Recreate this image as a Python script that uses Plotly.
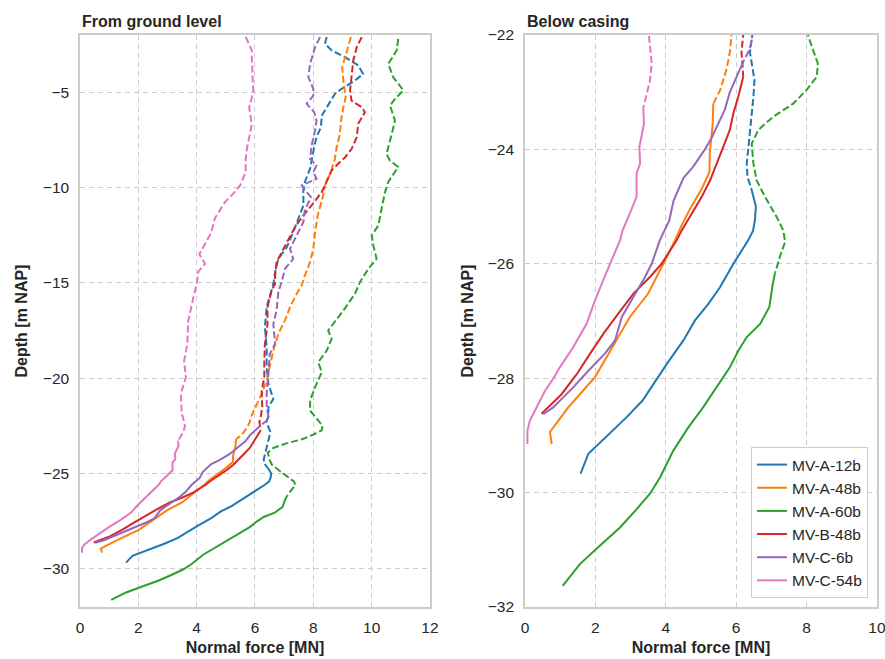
import plotly.graph_objects as go
from plotly.subplots import make_subplots

names = ["MV-A-12b", "MV-A-48b", "MV-A-60b", "MV-B-48b", "MV-C-6b", "MV-C-54b"]
colors = ["#1f77b4", "#ff7f0e", "#2ca02c", "#d62728", "#9467bd", "#e377c2"]

# depth [m NAP] / normal force [MN], top to bottom; casing = end of dashed part
a12_depth = [-2.1, -2.46, -2.81, -3.16, -3.6, -4.04, -4.39, -4.82, -5.09, -5.7, -6.23, -6.84, -7.36, -7.89,
             -8.5, -9.01, -9.71, -10.06, -10.94, -11.64, -12.34, -13.13, -13.74, -14.44, -15.05, -16.27,
             -17.32, -18.37, -19.42, -20.3, -21.09, -21.52, -22.0, -22.3, -22.79, -23.08, -23.37, -23.66,
             -23.9, -24.25, -24.48, -24.71, -25.0, -25.24, -25.42, -25.59, -26.0, -26.41, -26.7, -26.99,
             -27.34, -27.75, -28.1, -28.39, -28.68, -28.97, -29.32, -29.67]
a12_force = [8.46, 8.4, 8.63, 9.09, 9.54, 9.71, 9.43, 8.97, 8.74, 8.51, 8.29, 8.26, 8.11, 8.03,
             7.94, 7.89, 7.71, 7.66, 7.66, 7.49, 7.31, 7.09, 6.8, 6.69, 6.63, 6.4,
             6.34, 6.4, 6.4, 6.46, 6.63, 6.46, 6.46, 6.39, 6.52, 6.49, 6.44, 6.39,
             6.34, 6.30, 6.32, 6.44, 6.56, 6.53, 6.48, 6.34, 5.92, 5.54, 5.21, 4.83,
             4.5, 4.03, 3.65, 3.34, 2.89, 2.41, 1.80, 1.58]

a48_depth = [-2.11, -2.46, -3.16, -3.69, -4.39, -5.26, -5.79, -6.49, -7.19, -7.89, -8.49, -9.19, -9.89,
             -10.59, -11.46, -12.34, -13.21, -13.91, -14.61, -15.14, -15.57, -16.27, -16.97, -17.67,
             -18.55, -19.42, -20.12, -20.82, -21.52, -22.0, -22.3, -22.59, -22.97, -23.2, -23.58, -24.05,
             -24.4, -24.69, -25.04, -25.33, -25.59, -26.0, -26.52, -26.93, -27.34, -27.69, -27.98, -28.28,
             -28.51, -28.74, -28.94, -29.15]
a48_force = [9.29, 9.22, 9.09, 8.99, 9.03, 9.11, 9.03, 8.95, 8.91, 8.8, 8.74, 8.6, 8.4,
             8.31, 8.15, 8.06, 8.0, 7.89, 7.71, 7.6, 7.43, 7.2, 7.03, 6.8,
             6.63, 6.51, 6.4, 6.23, 6.0, 5.87, 5.82, 5.73, 5.54, 5.35, 5.33, 5.25,
             5.24, 5.02, 4.69, 4.45, 4.26, 3.93, 3.5, 2.98, 2.6, 2.27, 1.99, 1.56,
             1.23, 0.95, 0.71, 0.76]

a60_depth = [-2.2, -2.81, -3.51, -4.21, -4.91, -5.35, -5.7, -6.49, -7.19, -7.8, -8.24, -8.59, -8.92,
             -9.71, -10.24, -11.11, -11.99, -12.51, -13.04, -13.74, -14.26, -14.96, -15.57, -16.45,
             -17.5, -17.93, -18.55, -19.16, -19.69, -20.47, -21.17, -21.7, -22.06, -22.5, -22.73,
             -22.96, -23.2, -23.43, -23.66, -23.9, -24.25, -24.54, -24.83, -25.18, -25.42, -25.62,
             -25.82, -26.17, -26.35, -26.76, -27.05, -27.28, -27.52, -27.81, -28.16, -28.51, -28.86,
             -29.27, -29.73, -30.02, -30.32, -30.61, -30.9, -31.25, -31.63]
a60_force = [10.91, 10.86, 10.57, 10.74, 11.09, 10.8, 10.63, 10.8, 10.69, 10.57, 10.51, 10.63, 10.91,
             10.57, 10.46, 10.34, 10.23, 10.0, 10.06, 10.17, 9.89, 9.6, 9.43, 9.03,
             8.51, 8.63, 8.46, 8.17, 8.29, 8.06, 7.89, 7.89, 8.07, 8.32, 8.29,
             8.0, 7.62, 7.05, 6.63, 6.44, 6.49, 6.58, 6.82, 7.15, 7.34, 7.39,
             7.27, 7.1, 7.04, 6.94, 6.68, 6.3, 6.06, 5.82, 5.44, 5.06, 4.64,
             4.21, 3.84, 3.55, 3.13, 2.7, 2.18, 1.56, 1.07]

b48_depth = [-2.11, -2.64, -3.34, -4.04, -4.91, -5.44, -5.79, -6.05, -6.66, -7.36, -7.98, -8.42, -8.66,
             -9.1, -10.24, -10.94, -11.46, -12.08, -13.04, -13.91, -14.61, -15.05, -15.4, -16.27,
             -17.15, -18.2, -19.07, -19.95, -20.65, -21.52, -22.0, -22.3, -22.53, -22.73, -23.08,
             -23.37, -23.66, -23.96, -24.25, -24.54, -24.83, -25.12, -25.42, -25.59, -26.0, -26.23,
             -26.52, -26.87, -27.22, -27.57, -27.93, -28.28, -28.62]
b48_force = [9.66, 9.49, 9.37, 9.31, 9.26, 9.31, 9.66, 9.77, 9.54, 9.49, 9.31, 9.09, 8.91,
             8.63, 8.29, 7.94, 7.66, 7.37, 7.03, 6.74, 6.69, 6.69, 6.57, 6.43,
             6.43, 6.34, 6.32, 6.32, 6.23, 6.25, 6.2, 6.15, 6.18, 6.2, 6.06,
             5.92, 5.82, 5.63, 5.44, 5.26, 5.02, 4.73, 4.45, 4.31, 3.88, 3.55,
             3.08, 2.65, 2.23, 1.85, 1.47, 1.04, 0.47]

c6_depth = [-2.11, -2.64, -3.51, -4.21, -4.82, -5.18, -5.61, -6.05, -6.49, -7.01, -7.8, -8.5, -8.84,
            -9.19, -9.54, -9.89, -10.24, -10.5, -11.2, -11.81, -12.51, -13.21, -13.74, -14.26, -14.96,
            -15.5, -16.45, -17.15, -18.2, -18.72, -19.77, -20.82, -21.52, -22.0, -22.24, -22.47,
            -22.7, -23.0, -23.3, -23.6, -23.8, -24.0, -24.3, -24.5, -24.9, -25.24, -25.59, -26.0,
            -26.23, -26.58, -26.93, -27.34, -27.57, -27.87, -28.16, -28.51, -28.63]
c6_force = [8.23, 8.06, 7.89, 7.83, 8.0, 8.0, 7.77, 8.03, 8.11, 8.06, 7.94, 7.89, 8.11,
            8.0, 8.11, 7.6, 7.77, 7.92, 7.71, 7.66, 7.43, 7.2, 7.31, 7.03, 6.91,
            6.8, 6.74, 6.63, 6.69, 6.51, 6.46, 6.4, 6.4, 6.46, 6.39, 6.2,
            6.04, 5.82, 5.68, 5.44, 5.3, 5.11, 4.78, 4.5, 4.22, 4.1, 3.83, 3.6,
            3.41, 3.08, 2.75, 2.56, 2.27, 1.8, 1.37, 0.8, 0.52]

c54_depth = [-2.1, -2.8, -3.16, -5.0, -5.8, -6.7, -7.9, -8.5, -9.19, -9.89, -10.41, -10.76, -11.6,
             -12.1, -12.4, -13.5, -14.0, -14.4, -15.05, -15.75, -17.0, -18.2, -19.1, -19.95, -20.8,
             -21.9, -22.0, -22.5, -22.8, -23.08, -23.28, -23.55, -23.96, -24.25, -24.42, -24.83,
             -25.12, -25.42, -25.59, -26.0, -26.17, -26.64, -27.05, -27.46, -27.81, -28.01, -28.22,
             -28.45, -28.74, -28.92, -29.15]
c54_force = [5.68, 5.89, 5.89, 5.94, 5.8, 5.89, 5.73, 5.68, 5.68, 5.49, 5.2, 4.97, 4.63,
             4.55, 4.49, 4.09, 4.29, 4.06, 4.0, 3.89, 3.71, 3.68, 3.57, 3.63, 3.46,
             3.49, 3.52, 3.6, 3.55, 3.44, 3.36, 3.38, 3.25, 3.27, 3.17, 3.17,
             2.98, 2.77, 2.70, 2.41, 2.30, 1.99, 1.75, 1.37, 0.99, 0.80, 0.57,
             0.38, 0.14, 0.07, 0.07]

casing_depth = [-24.71, -23.2, -26.17, -22.73, -22.47, -23.28]

depths = [a12_depth, a48_depth, a60_depth, b48_depth, c6_depth, c54_depth]
forces = [a12_force, a48_force, a60_force, b48_force, c6_force, c54_force]

left_xticks = [0, 2, 4, 6, 8, 10, 12]
left_yticks = [-30, -25, -20, -15, -10, -5]
right_xticks = [0, 2, 4, 6, 8, 10]
right_yticks = [-32, -30, -28, -26, -24, -22]

FONT = "Liberation Sans, Arial, sans-serif"
TXT = "#262626"
GRID = "#cccccc"

fig = make_subplots(rows=1, cols=2, horizontal_spacing=0.12)

for i, name in enumerate(names):
    d, f = depths[i], forces[i]
    k = d.index(casing_depth[i])
    for col in (1, 2):
        fig.add_trace(go.Scatter(x=f[:k + 1], y=d[:k + 1], mode="lines", name=name,
                                 line=dict(color=colors[i], width=2, dash="7px,3px"),
                                 showlegend=False, hoverinfo="skip"), row=1, col=col)
        fig.add_trace(go.Scatter(x=f[k:], y=d[k:], mode="lines", name=name,
                                 line=dict(color=colors[i], width=2),
                                 showlegend=(col == 2)), row=1, col=col)

axis_common = dict(showline=True, mirror=True, linecolor=GRID, linewidth=1.5,
                   showgrid=True, gridcolor=GRID, griddash="5px,4px", gridwidth=1,
                   zeroline=False, ticks="", tickfont=dict(size=15.5, color=TXT, family=FONT),
                   ticklabelstandoff=6, ticklabeloverflow="allow")

fig.update_xaxes(**axis_common)
fig.update_yaxes(**axis_common)

title_font = dict(size=16, color=TXT, family=FONT, weight="bold")

fig.update_xaxes(range=[0, 12], tickvals=left_xticks, domain=[0, 0.4391],
                 title=dict(text="Normal force [MN]", font=title_font, standoff=6), row=1, col=1)
fig.update_xaxes(range=[0, 10], tickvals=right_xticks, domain=[0.5583, 1],
                 title=dict(text="Normal force [MN]", font=title_font, standoff=6), row=1, col=2)
fig.update_yaxes(range=[-32, -2], tickvals=left_yticks,
                 title=dict(text="Depth [m NAP]", font=title_font, standoff=11), row=1, col=1)
fig.update_yaxes(range=[-32, -22], tickvals=right_yticks,
                 title=dict(text="Depth [m NAP]", font=title_font, standoff=10), row=1, col=2)

fig.add_annotation(text="<b>From ground level</b>", xref="x domain", yref="y domain", x=0, y=1,
                   xanchor="left", yanchor="bottom", yshift=3, showarrow=False,
                   font=dict(size=16, color=TXT, family=FONT))
fig.add_annotation(text="<b>Below casing</b>", xref="x2 domain", yref="y2 domain", x=0, y=1,
                   xanchor="left", yanchor="bottom", yshift=3, showarrow=False,
                   font=dict(size=16, color=TXT, family=FONT))

fig.update_layout(
    width=885, height=659,
    margin=dict(l=80, r=8, t=35, b=52, autoexpand=False),
    paper_bgcolor="white", plot_bgcolor="white",
    font=dict(family=FONT, color=TXT),
    legend=dict(x=0.9887, y=0.0157, xanchor="right", yanchor="bottom",
                bgcolor="rgba(255,255,255,0.85)", bordercolor=GRID, borderwidth=1,
                font=dict(size=15.5, color=TXT, family=FONT), tracegroupgap=0),
)

fig.write_html("out.html")
